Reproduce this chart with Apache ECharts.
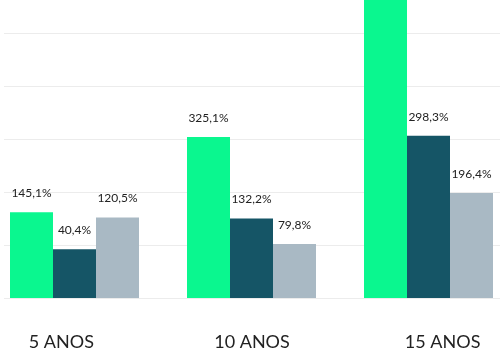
<!DOCTYPE html>
<html>
<head>
<meta charset="utf-8">
<script src="https://cdn.jsdelivr.net/npm/echarts@6/dist/echarts.min.js"></script>
<style>
  html, body { margin: 0; padding: 0; background: #fff; }
  #chart { width: 500px; height: 350px; }
</style>
</head>
<body>
<div id="chart"></div>
<script>
// periods on the x axis
const periods = ['5 ANOS', '10 ANOS', '15 ANOS']

// bar heights as drawn (axis units, grid line every 50)
const greenValues = [81, 152, 330]
const tealValues = [46, 75, 153]
const greyValues = [76, 51, 99]

// printed labels above the bars
const greenLabels = ['145,1%', '325,1%', '']
const tealLabels = ['40,4%', '132,2%', '298,3%']
const greyLabels = ['120,5%', '79,8%', '196,4%']

const chart = echarts.init(document.getElementById('chart'))

function barSeries(values, labels, color) {
  return {
    type: 'bar',
    xAxisIndex: 0,
    yAxisIndex: 0,
    data: values,
    barWidth: 43,
    barGap: '0%',
    clip: false,
    itemStyle: { color: color },
    label: {
      show: true,
      position: 'top',
      distance: 13,
      color: '#222',
      fontSize: 12,
      fontFamily: 'Lato',
      formatter: p => labels[p.dataIndex]
    }
  }
}

// three grids: bars, period labels, horizontal lines (v6 needs outerBoundsMode off for negative offsets)
const option = {
  animation: false,
  grid: [
    { left: -14, right: -17, top: 33, bottom: 52, outerBoundsMode: 'none' },
    { left: -34, right: -38, top: 33, bottom: 52, outerBoundsMode: 'none' },
    { left: 4, right: 0, top: 33, bottom: 52, outerBoundsMode: 'none' }
  ],
  xAxis: [
    { gridIndex: 0, type: 'category', data: periods, show: false },
    {
      gridIndex: 1,
      type: 'category',
      data: periods,
      axisLine: { show: false },
      axisTick: { show: false },
      axisLabel: { color: '#222', fontSize: 18, fontFamily: 'Lato', margin: 35 }
    },
    { gridIndex: 2, type: 'category', data: periods, show: false }
  ],
  yAxis: [
    { gridIndex: 0, type: 'value', min: 0, max: 250, interval: 50, show: false },
    { gridIndex: 1, type: 'value', min: 0, max: 250, show: false },
    {
      gridIndex: 2,
      type: 'value',
      min: 0,
      max: 250,
      interval: 50,
      axisLine: { show: false },
      axisTick: { show: false },
      axisLabel: { show: false },
      splitLine: { lineStyle: { color: '#ececec', width: 1 } }
    }
  ],
  series: [
    barSeries(greenValues, greenLabels, '#0af78f'),
    barSeries(tealValues, tealLabels, '#155566'),
    barSeries(greyValues, greyLabels, '#a9b9c4')
  ]
}

chart.setOption(option)
</script>
</body>
</html>
